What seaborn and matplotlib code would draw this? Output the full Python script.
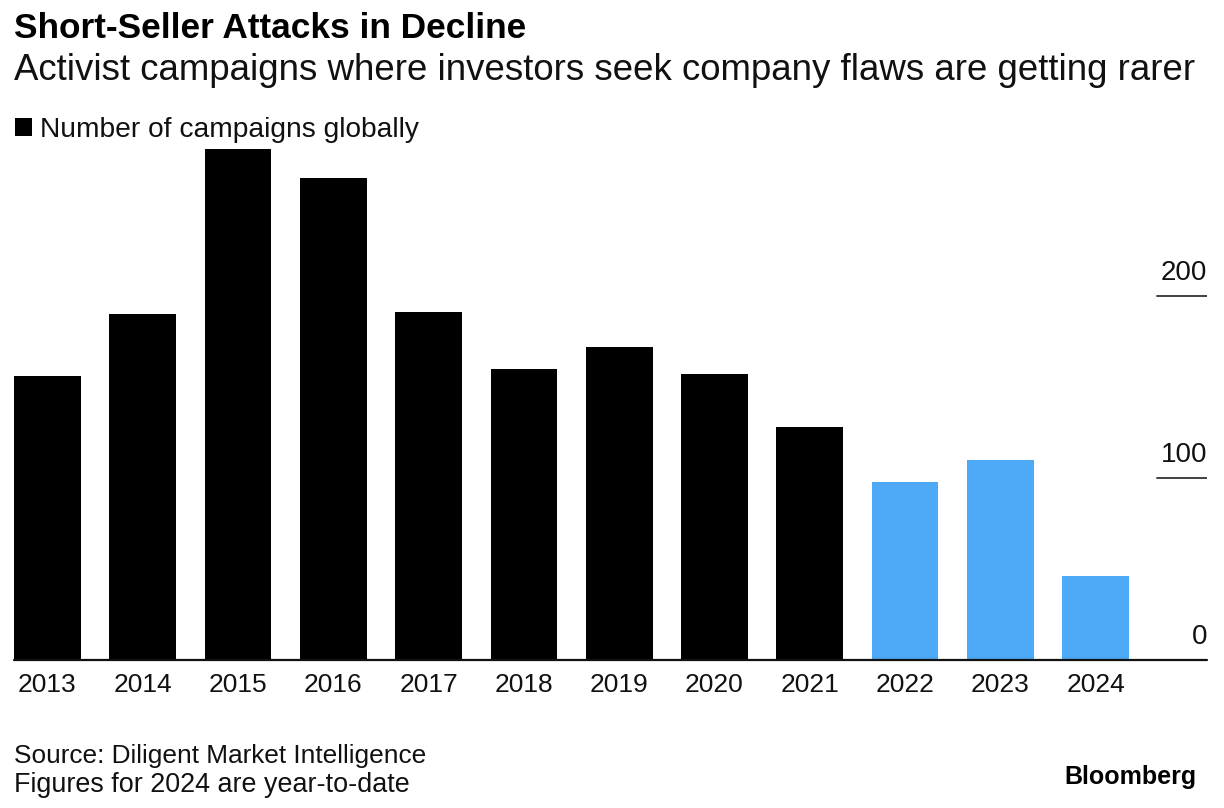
import matplotlib
matplotlib.use("Agg")
import matplotlib.pyplot as plt
import matplotlib.transforms as mtransforms
from matplotlib.patches import Rectangle
import seaborn as sns
import pandas as pd

# ---- data ----
years = ["2013", "2014", "2015", "2016", "2017", "2018", "2019", "2020",
         "2021", "2022", "2023", "2024"]
campaigns = [156, 190, 281, 265, 191, 160, 172, 157, 128, 98, 110, 46]
period = ["past"] * 9 + ["recent"] * 3
y_ticks = [0, 100, 200]
y_tick_labels = ["0", "100", "200"]

title = "Short-Seller Attacks in Decline"
subtitle = "Activist campaigns where investors seek company flaws are getting rarer"
legend_label = "Number of campaigns globally"
source_lines = ["Source: Diligent Market Intelligence", "Figures for 2024 are year-to-date"]
brand = "Bloomberg"

BLACK = "#000000"
BLUE = "#4DA8F5"
FONT = ["Liberation Sans", "DejaVu Sans"]

sns.set_theme(style="white")
plt.rcParams["font.family"] = FONT

W, H = 1224, 808
fig = plt.figure(figsize=(W / 100, H / 100), dpi=100)
fig.patch.set_facecolor("white")

def fx(px):
    return px / W

def fy(px):
    return 1 - px / H

ax_left, ax_right, ax_top, ax_bottom = 14, 1207, 148, 660
ax = fig.add_axes([fx(ax_left), fy(ax_bottom), (ax_right - ax_left) / W,
                   (ax_bottom - ax_top) / H])

df = pd.DataFrame({"year": years, "count": campaigns, "period": period})
sns.barplot(data=df, x="year", y="count", hue="period",
            palette={"past": BLACK, "recent": BLUE}, dodge=False,
            width=0.7, linewidth=0, legend=False, ax=ax, saturation=1)
for p in ax.patches:
    p.set_clip_on(False)

ax.set_xlim(-0.35, 12.168)
ax.set_ylim(0, 281.3)
for s in ax.spines.values():
    s.set_visible(False)
ax.set_xlabel("")
ax.set_ylabel("")
ax.set_yticks([])
ax.tick_params(axis="x", length=0, pad=9.0, labelsize=19, labelcolor="#111111")
ax.set_facecolor("white")

# zero line across the whole axis
ax.axhline(0, color="#111111", lw=1.6, zorder=5, clip_on=False)

# right side y labels with short rules
trans = mtransforms.blended_transform_factory(ax.transAxes, ax.transData)
gx0 = (1157 - ax_left) / (ax_right - ax_left)
for v, lab in zip(y_ticks, y_tick_labels):
    if v != 0:
        ax.axhline(v, xmin=gx0, xmax=1.0, color="#333333", lw=1.3, zorder=5)
    ax.annotate(lab, xy=(1.0, v), xycoords=trans, xytext=(0, 11.5),
                textcoords="offset points", ha="right", va="baseline",
                fontsize=20, color="#111111")

renderer = fig.canvas.get_renderer()

def fitted_text(x_px, y_px, s, target_right_px, size, **kw):
    t = fig.text(fx(x_px), fy(y_px), s, fontsize=size, va="baseline",
                 ha="left", **kw)
    bb = t.get_window_extent(renderer=renderer)
    scale = (target_right_px - x_px) / bb.width
    t.set_fontsize(size * scale)
    return t

# titles
fitted_text(14, 38, title, 527, 22.5, fontweight="bold", color="#000000")
fitted_text(14, 80, subtitle, 1196, 21.5, color="#111111")

# legend
fig.patches.append(Rectangle((fx(15), fy(136)), 17 / W, 18 / H,
                             transform=fig.transFigure, facecolor=BLACK,
                             edgecolor="none"))
fitted_text(40, 137, legend_label, 420, 18.5, color="#111111")

# footer
fitted_text(14, 763, source_lines[0], 427, 17.5, color="#111111")
fitted_text(14, 792, source_lines[1], 407, 17.5, color="#111111")
fig.text(fx(1196), fy(784), brand, fontsize=18, fontweight="bold",
         color="#000000", va="baseline", ha="right")

fig.savefig("out.png", dpi=100, facecolor="white")
